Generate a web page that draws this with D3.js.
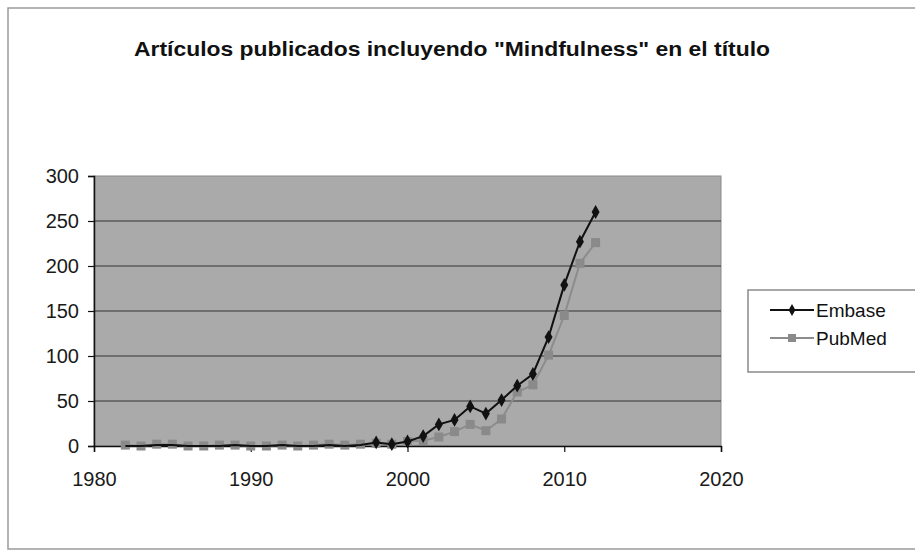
<!DOCTYPE html>
<html>
<head>
<meta charset="utf-8">
<script src="https://cdn.jsdelivr.net/npm/d3@7"></script>
<style>
  body { margin: 0; background: #fff; }
  svg { display: block; }
</style>
</head>
<body>
<div id="chart"></div>
<script>
const width = 915, height = 558;

const years = d3.range(1982, 2013);
const embase = [0, 0, 1, 1, 0, 0, 0, 1, 0, 0, 1, 0, 0, 1, 0, 1, 4, 2, 5, 11,
  24, 29, 44, 36, 51, 67, 80, 121, 179, 227, 260];
const pubmed = [1, 0, 2, 2, 0, 0, 1, 1, 0, 0, 1, 0, 1, 2, 1, 2, 3, 2, 5, 6,
  10, 16, 24, 17, 30, 60, 68, 101, 145, 203, 226];
const xTicks = [1980, 1990, 2000, 2010, 2020];
const yTicks = [0, 50, 100, 150, 200, 250, 300];
const seriesNames = ["Embase", "PubMed"];
const title = 'Artículos publicados incluyendo "Mindfulness" en el título';

const margin = {left: 94, right: 194, top: 176, bottom: 112};

const svg = d3.select("#chart").append("svg")
  .attr("width", width).attr("height", height);

// marco exterior
svg.append("rect")
  .attr("x", 8).attr("y", 8).attr("width", 912).attr("height", 541)
  .attr("fill", "#fff").attr("stroke", "#9a9a9a").attr("stroke-width", 1.5);

const x = d3.scaleLinear().domain([1980, 2020]).range([margin.left, width - margin.right]);
const y = d3.scaleLinear().domain([0, 300]).range([height - margin.bottom, margin.top]);

// zona del gráfico
svg.append("rect")
  .attr("x", x(1980)).attr("y", y(300))
  .attr("width", x(2020) - x(1980)).attr("height", y(0) - y(300))
  .attr("fill", "#aaaaaa").attr("stroke", "#8a8a8a");

svg.append("g").selectAll("line").data(yTicks.filter(d => d > 0 && d < 300)).join("line")
  .attr("x1", x(1980)).attr("x2", x(2020))
  .attr("y1", d => y(d)).attr("y2", d => y(d))
  .attr("stroke", "#333").attr("stroke-width", 1.2);

const yAxis = svg.append("g")
  .attr("transform", `translate(${x(1980)},0)`)
  .call(d3.axisLeft(y).tickValues(yTicks).tickSize(6).tickPadding(9));
const xAxis = svg.append("g")
  .attr("transform", `translate(0,${y(0)})`)
  .call(d3.axisBottom(x).tickValues(xTicks).tickFormat(d3.format("d")).tickSize(6).tickPadding(20));

[yAxis, xAxis].forEach(a => {
  a.select(".domain").attr("stroke", "#111").attr("stroke-width", 1.5);
  a.selectAll(".tick line").attr("stroke", "#111").attr("stroke-width", 1.2);
  a.selectAll("text").attr("font-family", "Liberation Sans, Arial, sans-serif")
    .attr("font-size", 20).attr("fill", "#1a1a1a");
});

const rows = years.map((yr, i) => ({yr, e: embase[i], p: pubmed[i]}));

const line = key => d3.line().x(d => x(d.yr)).y(d => y(d[key]));

svg.append("path").datum(rows)
  .attr("fill", "none").attr("stroke", "#8c8c8c").attr("stroke-width", 2)
  .attr("d", line("p"));
svg.append("g").selectAll("rect").data(rows).join("rect")
  .attr("x", d => x(d.yr) - 4.5).attr("y", d => y(d.p) - 4.5)
  .attr("width", 9).attr("height", 9).attr("fill", "#8a8a8a");

svg.append("path").datum(rows)
  .attr("fill", "none").attr("stroke", "#111").attr("stroke-width", 2)
  .attr("d", line("e"));
svg.append("g").selectAll("path").data(rows.filter(d => d.yr >= 1998)).join("path")
  .attr("transform", d => `translate(${x(d.yr)},${y(d.e)})`)
  .attr("d", d3.symbol(d3.symbolDiamond, 55))
  .attr("fill", "#111");

// título
svg.append("text")
  .attr("x", 452).attr("y", 56)
  .attr("text-anchor", "middle")
  .attr("font-family", "Liberation Sans Narrow, Liberation Sans, Arial, sans-serif")
  .attr("font-weight", "bold").attr("font-size", 21)
  .attr("textLength", 636).attr("lengthAdjust", "spacingAndGlyphs")
  .attr("fill", "#111")
  .text(title);

// leyenda
const leg = svg.append("g");
leg.append("rect")
  .attr("x", 748).attr("y", 290).attr("width", 180).attr("height", 82)
  .attr("fill", "#fff").attr("stroke", "#8a8a8a").attr("stroke-width", 1.5);
const items = leg.selectAll("g").data(seriesNames).join("g")
  .attr("transform", (d, i) => `translate(770,${310 + i * 28})`);
items.append("line").attr("x1", 0).attr("x2", 44)
  .attr("stroke", (d, i) => i ? "#8c8c8c" : "#111").attr("stroke-width", 2);
items.filter((d, i) => i === 0).append("path")
  .attr("transform", "translate(22,0)")
  .attr("d", d3.symbol(d3.symbolDiamond, 40)).attr("fill", "#111");
items.filter((d, i) => i === 1).append("rect")
  .attr("x", 18).attr("y", -4).attr("width", 8).attr("height", 8).attr("fill", "#8a8a8a");
items.append("text")
  .attr("x", 46).attr("dy", "0.35em")
  .attr("font-family", "Liberation Sans, Arial, sans-serif")
  .attr("font-size", 19).attr("fill", "#111")
  .text(d => d);
</script>
</body>
</html>
